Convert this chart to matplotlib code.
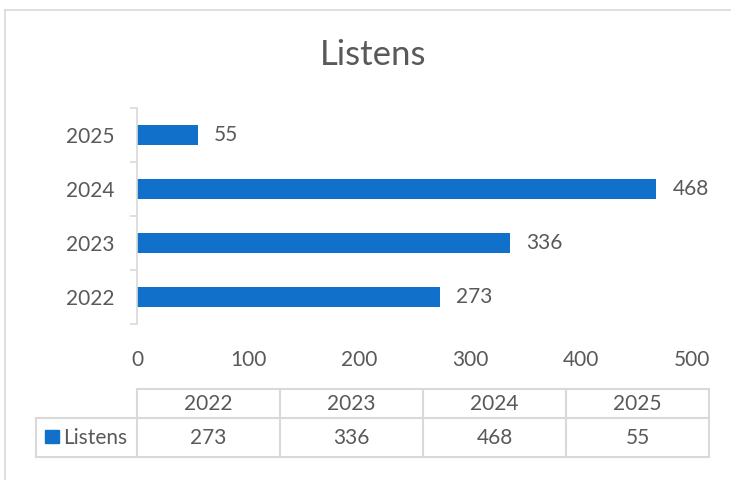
import matplotlib
matplotlib.use("Agg")
import matplotlib.pyplot as plt
from matplotlib.patches import Rectangle

# data
years = ["2022", "2023", "2024", "2025"]
listens = [273, 336, 468, 55]
series_name = "Listens"

bar_color = "#1170c9"
text_color = "#595959"
line_color = "#d9d9d9"
fs = 15

plt.rcParams["font.family"] = ["Lato", "DejaVu Sans"]

W, H = 731, 480
fig = plt.figure(figsize=(W / 100, H / 100), dpi=100)

# overlay axes in pixel coords for border + data table
bg = fig.add_axes([0, 0, 1, 1], zorder=0)
bg.set_xlim(0, W)
bg.set_ylim(H, 0)
bg.axis("off")

# chart border
bg.plot([5, 5], [10, H], color=line_color, lw=1.2)
bg.plot([5, W], [10, 10], color=line_color, lw=1.2)

# title
bg.text(373, 55, series_name, ha="center", va="center", fontsize=25, color=text_color)

# main bar axes
ax = fig.add_axes([137 / W, 1 - 324 / H, (692 - 137) / W, (324 - 108) / H], zorder=1)
ax.patch.set_alpha(0)
pos = list(range(len(years)))
ax.barh(pos, listens, height=0.355, color=bar_color)
ax.set_xlim(0, 500)
ax.set_ylim(-0.5, len(years) - 0.5)
ax.set_yticks(pos)
ax.set_yticklabels(years)
ax.set_yticks([p - 0.5 for p in pos] + [len(years) - 0.5], minor=True)
ax.set_xticks(range(0, 501, 100))
ax.tick_params(axis="y", which="major", length=0, pad=16, labelsize=fs, labelcolor=text_color)
ax.tick_params(axis="y", which="minor", length=5, width=1.2, color=line_color, direction="out")
ax.tick_params(axis="x", length=0, pad=19, labelsize=fs, labelcolor=text_color)
for s in ["top", "right", "bottom"]:
    ax.spines[s].set_visible(False)
ax.spines["left"].set_color(line_color)
ax.spines["left"].set_linewidth(1.2)

for p, v in zip(pos, listens):
    ax.annotate(str(v), (v, p), xytext=(11.5, 0), textcoords="offset points",
                ha="left", va="center", fontsize=fs, color=text_color)

# data table below
tx0, tx1 = 137, 709
lx0 = 36
y0, y1, y2 = 389, 418, 457
colw = (tx1 - tx0) / len(years)
lw = 1.5
bg.plot([tx0, tx1], [y0, y0], color=line_color, lw=lw)
bg.plot([lx0, tx1], [y1, y1], color=line_color, lw=lw)
bg.plot([lx0, tx1], [y2, y2], color=line_color, lw=lw)
bg.plot([lx0, lx0], [y1, y2], color=line_color, lw=lw)
for i in range(len(years) + 1):
    x = tx0 + i * colw
    bg.plot([x, x], [y0, y2], color=line_color, lw=lw)
for i, (yr, v) in enumerate(zip(years, listens)):
    cx = tx0 + (i + 0.5) * colw
    bg.text(cx, (y0 + y1) / 2, yr, ha="center", va="center", fontsize=fs, color=text_color)
    bg.text(cx, (y1 + y2) / 2, str(v), ha="center", va="center", fontsize=fs, color=text_color)
bg.add_patch(Rectangle((45, 430), 14, 13, color=bar_color))
bg.text(63, (y1 + y2) / 2, series_name, ha="left", va="center", fontsize=fs, color=text_color)

fig.savefig("out.png", dpi=100)
